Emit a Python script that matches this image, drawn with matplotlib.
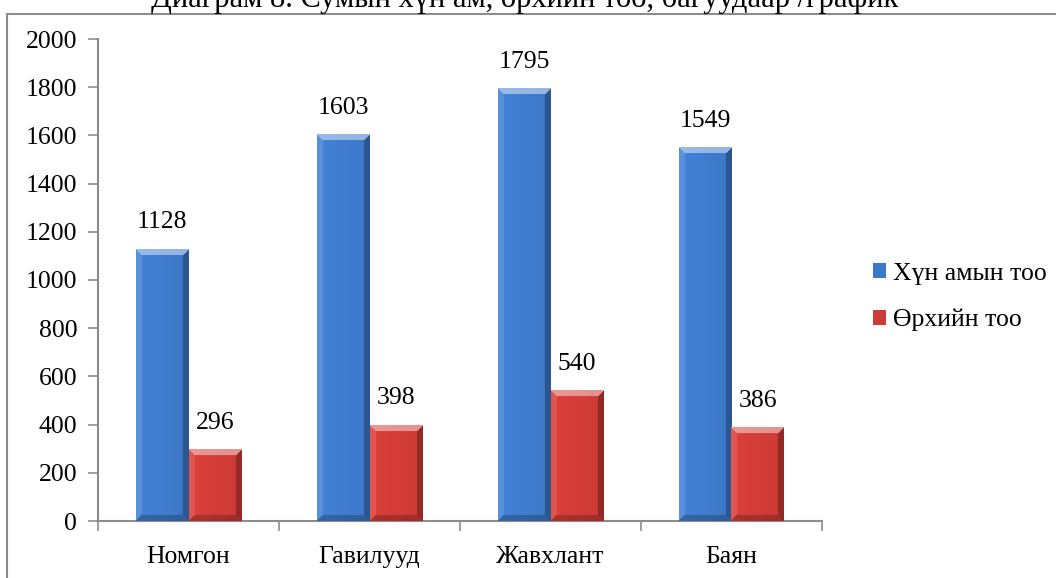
import matplotlib.pyplot as plt
import matplotlib.patches as patches
import numpy as np

# өгөгдөл
categories = ['Номгон', 'Гавилууд', 'Жавхлант', 'Баян']
population = [1128, 1603, 1795, 1549]
households = [296, 398, 540, 386]
series_names = ['Хүн амын тоо', 'Өрхийн тоо']
title = 'Диаграм 8. Сумын хүн ам, өрхийн тоо, багуудаар /график'

plt.rcParams['font.family'] = ['Liberation Serif', 'DejaVu Serif']
FS = 18.5

W, H = 1056, 578
fig = plt.figure(figsize=(W / 100, H / 100), dpi=100)
ax = fig.add_axes([98 / W, 1 - 521 / H, 724 / W, 482 / H])

# гадна хүрээ
fig.patches.append(patches.Rectangle((7 / W, -0.1), 1.2, 1 - 14 / H + 0.1,
                                     transform=fig.transFigure, fill=False,
                                     edgecolor='#8c8c8c', lw=1.5))
fig.text(525 / W, 1 - 7 / H, title, ha='center', va='baseline', fontsize=22)

x = np.arange(len(categories))
w = 0.29
blue = np.array([0.24, 0.47, 0.78])
red = np.array([0.80, 0.23, 0.21])
b1 = ax.bar(x - w / 2, population, w, color=blue, lw=0, label=series_names[0])
b2 = ax.bar(x + w / 2, households, w, color=red, lw=0, label=series_names[1])


def bevel(base, h, w, b=6):
    # тэгш өнцөгтийн товойлт
    yy, xx = np.mgrid[0:h, 0:w]
    d = np.stack([yy, h - 1 - yy, xx, w - 1 - xx])
    side = d.argmin(axis=0)
    edge = d.min(axis=0) < b
    img = np.ones((h, w, 3)) * base
    img *= (1.0 + 0.08 * (1 - xx / w))[..., None]
    shade = np.array([0.45, -0.22, 0.12, -0.28])
    f = np.where(edge, shade[side], 0.0)[..., None]
    img = np.where(f > 0, img + (1 - img) * f, img * (1 + f))
    return np.clip(img, 0, 1)


px_per_unit = 482 / 2000
for bars, base in ((b1, blue), (b2, red)):
    for r in bars:
        h = max(int(r.get_height() * px_per_unit), 2)
        x0 = r.get_x()
        ax.imshow(bevel(base, h, 52), extent=(x0, x0 + r.get_width(), 0, r.get_height()),
                  origin='upper', aspect='auto', interpolation='bilinear', zorder=3)

for bars, vals in ((b1, population), (b2, households)):
    for r, v in zip(bars, vals):
        ax.text(r.get_x() + r.get_width() / 2, v + 65, str(v), ha='center', va='bottom', fontsize=FS)

ax.set_xlim(-0.5, len(categories) - 0.5)
ax.set_ylim(0, 2000)
ax.set_yticks(range(0, 2001, 200))
ax.set_xticks(x)
ax.set_xticklabels(categories)
ax.set_xticks(np.arange(-0.5, len(categories)), minor=True)
ax.tick_params(axis='x', which='major', length=0, labelsize=FS, pad=18)
ax.tick_params(axis='x', which='minor', length=7, color='#8c8c8c', width=1.2)
ax.tick_params(axis='y', length=7, color='#8c8c8c', width=1.2, labelsize=FS, pad=8)
for s in ('top', 'right'):
    ax.spines[s].set_visible(False)
for s in ('left', 'bottom'):
    ax.spines[s].set_color('#8c8c8c')
    ax.spines[s].set_linewidth(1.5)

ax.legend(loc='center left', bbox_to_anchor=(860 / W, 1 - 297 / H), bbox_transform=fig.transFigure,
          frameon=False, fontsize=FS, borderpad=0, handlelength=0.5, handleheight=0.5,
          handletextpad=0.3, labelspacing=0.95)

plt.savefig('out.png', dpi=100)
plt.close()
